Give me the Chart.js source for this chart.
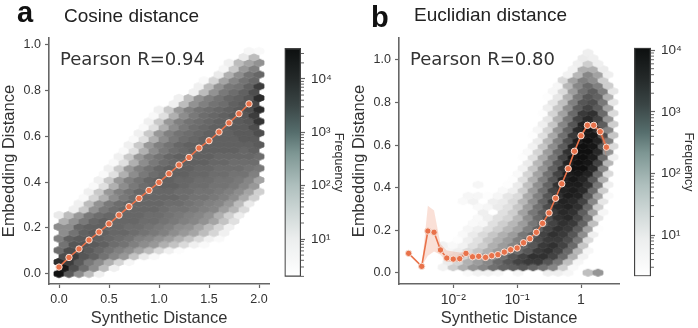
<!DOCTYPE html>
<html>
<head>
<meta charset="utf-8">
<script src="https://cdn.jsdelivr.net/npm/chart.js@4"></script>
<style>
body { margin: 0; background: #fff; width: 698px; height: 328px; overflow: hidden; position: relative; }
canvas { position: absolute; top: 0; }
.txt { position: absolute; white-space: nowrap; line-height: 1; }
.letter { font: bold 29px/1 "Liberation Sans"; color: #111; }
.title { font: 19px/1 "Liberation Sans"; color: #222; }
.pearson { font: 18px/1 "DejaVu Sans"; color: #333; }
</style>
</head>
<body>
<canvas id="hexA" style="left:0"></canvas>
<canvas id="barA" style="left:275px"></canvas>
<canvas id="hexB" style="left:350px"></canvas>
<canvas id="barB" style="left:625px"></canvas>
<div class="txt letter" style="left:17px;top:-2px">a</div>
<div class="txt title" style="left:64px;top:6px">Cosine distance</div>
<div class="txt pearson" style="left:60px;top:50px">Pearson R=0.94</div>
<div class="txt letter" style="left:371px;top:3px">b</div>
<div class="txt title" style="left:414px;top:5px">Euclidian distance</div>
<div class="txt pearson" style="left:410px;top:50px">Pearson R=0.80</div>
<script>
// mean line, panel a
const cosineX = [0, 0.1, 0.2, 0.3, 0.4, 0.5, 0.6, 0.7, 0.8, 0.9, 1.0, 1.1, 1.2, 1.3, 1.4, 1.5, 1.6, 1.7, 1.8, 1.9];
const cosineY = [0.029, 0.071, 0.108, 0.147, 0.182, 0.218, 0.256, 0.293, 0.329, 0.364, 0.399, 0.437, 0.475, 0.508, 0.549, 0.581, 0.619, 0.659, 0.699, 0.742];

// mean line and band, panel b
const euclidX = [0.002, 0.0032, 0.004, 0.005, 0.0063, 0.0079, 0.01, 0.0126, 0.0158, 0.02, 0.025, 0.032, 0.04, 0.05, 0.063, 0.079, 0.1, 0.126, 0.158, 0.2, 0.25, 0.316, 0.4, 0.5, 0.63, 0.79, 1, 1.26, 1.58, 2, 2.5];
const euclidY = [0.091, 0.03, 0.196, 0.19, 0.107, 0.069, 0.064, 0.066, 0.091, 0.075, 0.077, 0.072, 0.08, 0.085, 0.097, 0.108, 0.116, 0.141, 0.16, 0.19, 0.232, 0.281, 0.35, 0.418, 0.489, 0.571, 0.644, 0.693, 0.693, 0.663, 0.59];
const euclidUpper = [0.091, 0.03, 0.315, 0.293, 0.135, 0.105, 0.1, 0.095, 0.1, 0.081, 0.082, 0.077, 0.085, 0.09, 0.102, 0.113, 0.121, 0.146, 0.165, 0.195, 0.237, 0.287, 0.356, 0.424, 0.496, 0.578, 0.652, 0.703, 0.705, 0.685, 0.62];
const euclidLower = [0.091, 0.03, 0.08, 0.1, 0.085, 0.05, 0.05, 0.05, 0.08, 0.069, 0.072, 0.067, 0.075, 0.08, 0.092, 0.103, 0.111, 0.136, 0.155, 0.185, 0.227, 0.275, 0.344, 0.412, 0.482, 0.564, 0.636, 0.683, 0.681, 0.64, 0.54];

// hex bins: log10(frequency) x 10, one list per row from the bottom, 0 = empty bin
const cosineStart = [0,0,0,0,0,0,0,0,0,0,0,1,2,2,3,3,4,4,5,5,6,6,7,7,8,8,9,9,10,11,12,13,14,14,16,16,17,18,19];
const cosineFreq = [
  [45,34,26,18,8],
  [44,36,31,26,18,8],
  [40,38,34,29,26,20,14,6],
  [36,38,35,33,30,27,24,17,10,5],
  [31,36,36,34,32,30,28,26,22,18,13,8,4],
  [30,35,35,34,33,31,30,28,26,24,20,17,13,8,5],
  [28,33,34,34,33,32,31,30,28,27,25,23,20,17,13,8,5],
  [26,30,33,34,33,32,32,31,30,29,28,26,24,22,18,14,8],
  [26,26,32,33,33,32,32,31,31,30,29,28,26,25,22,18,14,8],
  [20,25,29,32,33,32,32,32,31,31,30,29,28,27,25,22,17,12],
  [10,18,24,29,31,32,32,32,32,31,31,30,29,28,27,25,20,15,9],
  [8,16,25,29,31,32,32,32,32,31,30,30,29,28,27,23,19,13],
  [8,18,25,29,31,32,32,32,32,31,31,30,29,28,27,24,18,10],
  [5,14,20,26,29,31,32,32,32,32,31,30,30,29,28,26,21,15],
  [8,16,24,28,30,32,32,32,32,31,31,30,30,29,28,26,22,15],
  [5,12,20,26,29,31,32,33,33,32,31,31,30,30,29,27,24],
  [8,16,24,28,30,32,33,33,32,32,31,31,30,30,29,27,22],
  [5,12,20,26,29,31,32,33,33,32,32,31,31,30,30,28],
  [8,16,24,28,30,32,33,33,33,32,32,31,31,31,30,29],
  [5,12,20,26,29,31,32,33,33,33,32,32,31,31,31],
  [8,16,24,28,30,32,33,33,33,33,32,32,32,32,31],
  [5,12,20,26,29,31,32,33,33,33,33,33,32,33],
  [8,16,24,28,30,32,33,33,33,33,33,33,33,34],
  [5,12,20,26,29,31,32,33,33,33,33,34,34],
  [8,16,24,28,30,31,32,33,33,33,34,34,36],
  [5,12,20,26,29,31,32,33,33,34,34,36],
  [8,16,24,28,30,31,32,33,33,34,35,39],
  [5,12,20,26,29,31,32,33,34,35,38],
  [8,16,24,28,30,31,32,33,34,36,40],
  [8,18,25,28,30,31,33,34,37],
  [8,18,25,28,30,32,33,35,40],
  [8,18,25,29,31,33,36],
  [8,18,25,29,30,33,38],
  [5,14,22,27,30,32],
  [10,20,26,30,32],
  [6,16,24,28],
  [8,18,22,25],
  [10,18],
  [6,5]
];

const euclidStart = [3,0,1,0,1,0,2,2,3,3,4,4,4,2,3,6,4,7,8,8,9,8,9,9,10,9,10,10,11,10,11,11,11,11,12,12,13,13,14,14,15];
const euclidFreq = [
  [5,7,7,6,0,6,0,0,8,8,6,0,16,22],
  [7,14,18,22,24,27,29,30,31,29,27,24,14,5],
  [9,13,18,21,24,28,31,33,34,34,31,26,16,6],
  [4,8,13,17,20,23,27,31,33,35,35,33,28,18,7],
  [6,8,12,15,18,21,25,28,31,34,35,33,28,17,6],
  [7,5,7,11,14,18,21,24,28,31,34,35,33,28,15],
  [4,8,11,15,18,21,25,28,32,34,34,32,26,12],
  [5,9,12,15,18,21,26,29,33,35,34,31,23,8],
  [6,8,11,14,17,20,25,29,33,35,34,30,20,4],
  [5,6,11,14,17,21,26,30,33,35,34,29,16],
  [5,8,11,13,17,23,28,32,35,36,33,27,10],
  [8,0,11,14,20,26,30,34,36,35,30,20,6],
  [5,6,9,11,15,21,27,32,36,37,35,28,14],
  [5,7,0,8,9,12,17,23,29,34,37,36,33,24,10],
  [6,6,4,6,10,12,19,25,31,35,38,37,31,20,5],
  [5,8,14,21,27,33,37,38,36,28,14],
  [6,0,0,4,9,16,23,29,35,38,38,35,26,8],
  [4,11,18,25,31,37,39,37,31,18],
  [5,13,20,27,33,38,39,37,28,12],
  [7,15,22,29,35,40,40,36,24],
  [9,17,24,31,37,40,39,33,17],
  [4,11,19,26,33,39,40,38,28,8],
  [5,13,21,28,35,40,40,36,22],
  [7,15,23,30,37,40,39,31,12],
  [9,17,25,32,38,40,37,25],
  [4,11,19,27,34,39,39,32,15],
  [6,13,22,29,36,39,36,24],
  [8,15,24,31,37,38,30,14],
  [10,18,26,33,36,33,22],
  [4,13,20,28,34,35,28,12],
  [8,15,23,30,33,30,20],
  [10,16,25,31,32,26,10],
  [4,10,18,26,31,29,18],
  [6,12,21,27,30,25,10],
  [6,17,24,28,25,14],
  [12,20,25,23,14],
  [7,17,24,20,8],
  [7,18,18,9],
  [8,14,8],
  [9,8],
  [8]
];

const cosineTicksX = [0, 0.5, 1, 1.5, 2];
const yTicks = [0, 0.2, 0.4, 0.6, 0.8, 1];
const euclidTicksX = [0.01, 0.1, 1];
const euclidLabelsX = ['10\u207B\u00B2', '10\u207B\u00B9', '1'];
const cbarA = [10, 100, 1000, 10000];
const cbarLabels = ['10\u00B9', '10\u00B2', '10\u00B3', '10\u2074'];

// colour ramp as fraction of the colorbar -> colour
const rampPos = [0, 0.165, 0.28, 0.4, 0.54, 0.63, 0.75, 0.865, 1];
const rampBar = ['#ffffff', '#eceeee', '#cfd8d7', '#aebfbd', '#7d9693', '#566e6d', '#3a4545', '#242929', '#0c0f0f'];
const rampHex = [255, 234, 208, 175, 140, 115, 85, 45, 14];

const lineColor = '#e9724a';
const axisColor = '#666';
const textColor = '#333';
const tickFont = { family: 'Liberation Sans', size: 12.5 };
const titleFont = { family: 'Liberation Sans', size: 16.5 };

function grayFor(frac) {
  for (let i = 1; i < rampPos.length; i++) {
    if (frac <= rampPos[i]) {
      const t = (frac - rampPos[i - 1]) / (rampPos[i] - rampPos[i - 1]);
      return Math.round(rampHex[i - 1] + t * (rampHex[i] - rampHex[i - 1]));
    }
  }
  return rampHex[rampHex.length - 1];
}

// a sprite per gray level, used as the point style of the hexbin
const sprites = {};
function hexSprite(gray, w, h) {
  const key = gray + '_' + h;
  if (sprites[key]) return sprites[key];
  const c = document.createElement('canvas');
  c.width = w + 4;
  c.height = Math.ceil(h) + 4;
  const g = c.getContext('2d');
  const cx = c.width / 2, cy = c.height / 2, s = h / 2;
  g.fillStyle = g.strokeStyle = 'rgb(' + gray + ',' + gray + ',' + gray + ')';
  g.lineWidth = 0.8;
  g.beginPath();
  g.moveTo(cx, cy - s);
  g.lineTo(cx + w / 2, cy - s / 2);
  g.lineTo(cx + w / 2, cy + s / 2);
  g.lineTo(cx, cy + s);
  g.lineTo(cx - w / 2, cy + s / 2);
  g.lineTo(cx - w / 2, cy - s / 2);
  g.closePath();
  g.fill();
  g.stroke();
  sprites[key] = c;
  return c;
}

function hexPoints(starts, rows, xOf, yStep) {
  const pts = [];
  rows.forEach(function (row, r) {
    row.forEach(function (f, i) {
      if (f > 0) pts.push({ x: xOf(starts[r] + i + (r % 2 ? 0.5 : 0)), y: r * yStep, f: f / 10 });
    });
  });
  return pts;
}

function lineData(xs, ys) {
  return xs.map(function (x, i) { return { x: x, y: ys[i] }; });
}

function hexDataset(pts, logMin, logMax, hexH) {
  return {
    data: pts,
    order: 5,
    showLine: false,
    pointRadius: 5,
    pointHoverRadius: 5,
    pointStyle: function (ctx) {
      if (!ctx.raw) return 'circle';
      return hexSprite(grayFor((ctx.raw.f - logMin) / (logMax - logMin)), 10, hexH);
    }
  };
}

function meanDataset(pts) {
  return {
    data: pts,
    order: 1,
    showLine: true,
    borderColor: lineColor,
    borderWidth: 1.6,
    pointRadius: 3.2,
    pointBackgroundColor: lineColor,
    pointBorderColor: '#f6dfd5',
    pointBorderWidth: 1
  };
}

function axisBase(title, fitKey, fitVal) {
  return {
    grid: { drawOnChartArea: false, tickColor: axisColor, tickLength: 4, tickWidth: 1.2 },
    border: { color: axisColor, width: 1.6 },
    title: { display: true, text: title, color: textColor, font: titleFont, padding: 0 },
    afterFit: function (scale) { scale[fitKey] = fitVal; }
  };
}

function hexChart(id, datasets, xScale, yMin, yMax) {
  const canvas = document.getElementById(id);
  canvas.width = 280;
  canvas.height = 328;
  const yAxis = axisBase('Embedding Distance', 'width', 49);
  yAxis.min = yMin;
  yAxis.max = yMax;
  yAxis.afterBuildTicks = function (scale) { scale.ticks = yTicks.map(function (v) { return { value: v }; }); };
  yAxis.ticks = { color: textColor, font: tickFont, padding: 4, autoSkip: false, callback: function (v) { return v.toFixed(1); } };
  return new Chart(canvas, {
    type: 'scatter',
    data: { datasets: datasets },
    options: {
      responsive: false,
      animation: false,
      layout: { padding: { top: 38, right: 11 } },
      plugins: { legend: { display: false }, tooltip: { enabled: false } },
      scales: { x: xScale, y: yAxis }
    }
  });
}

const minorTicks = {
  id: 'minorTicks',
  afterDraw: function (chart) {
    const y = chart.scales.y, g = chart.ctx, right = chart.chartArea.right;
    g.save();
    g.strokeStyle = axisColor;
    g.lineWidth = 1;
    for (let e = 0; e < 5; e++) {
      for (let m = 2; m < 10; m++) {
        const v = m * Math.pow(10, e);
        if (v < y.min || v > y.max) continue;
        const p = y.getPixelForValue(v);
        g.beginPath();
        g.moveTo(right, p);
        g.lineTo(right + 3, p);
        g.stroke();
      }
    }
    g.restore();
  }
};

function colorbar(id, logMin, logMax, top, bottom, left, barW) {
  const canvas = document.getElementById(id);
  canvas.width = 73;
  canvas.height = 328;
  return new Chart(canvas, {
    type: 'bar',
    data: {
      labels: ['f'],
      datasets: [{
        data: [[Math.pow(10, logMin), Math.pow(10, logMax)]],
        barPercentage: 1,
        categoryPercentage: 1,
        borderColor: '#444',
        borderWidth: 1.5,
        borderSkipped: false,
        backgroundColor: function (ctx) {
          const a = ctx.chart.chartArea;
          if (!a) return '#888';
          const grad = ctx.chart.ctx.createLinearGradient(0, a.bottom, 0, a.top);
          rampPos.forEach(function (p, i) { grad.addColorStop(p, rampBar[i]); });
          return grad;
        }
      }]
    },
    plugins: [minorTicks],
    options: {
      responsive: false,
      animation: false,
      layout: { padding: { top: top, bottom: 328 - bottom, left: left, right: 2 } },
      plugins: { legend: { display: false }, tooltip: { enabled: false } },
      scales: {
        x: { display: false },
        y: {
          type: 'logarithmic',
          position: 'right',
          bounds: 'data',
          min: Math.pow(10, logMin),
          max: Math.pow(10, logMax),
          grid: { drawOnChartArea: false, tickColor: axisColor, tickLength: 4, tickWidth: 1.2 },
          border: { display: false },
          afterBuildTicks: function (scale) { scale.ticks = cbarA.filter(function (v) { return v <= scale.max; }).map(function (v) { return { value: v }; }); },
          afterFit: function (scale) { scale.width = 71 - left - barW; },
          ticks: {
            color: textColor,
            font: { family: 'Liberation Sans', size: 13.5 },
            padding: 6,
            autoSkip: false,
            callback: function (v) { return cbarLabels[cbarA.indexOf(v)]; }
          },
          title: { display: true, text: 'Frequency', color: textColor, font: { family: 'Liberation Sans', size: 12.5 }, padding: 0 }
        }
      }
    }
  });
}

// panel a
const xA = axisBase('Synthetic Distance', 'height', 44);
xA.type = 'linear';
xA.min = -0.1;
xA.max = 2.1;
xA.afterBuildTicks = function (scale) { scale.ticks = cosineTicksX.map(function (v) { return { value: v }; }); };
xA.ticks = { color: textColor, font: tickFont, padding: 4, autoSkip: false, maxRotation: 0, callback: function (v) { return v.toFixed(1); } };

hexChart('hexA', [
  meanDataset(lineData(cosineX, cosineY)),
  hexDataset(hexPoints(cosineStart, cosineFreq, function (k) { return k * 0.1; }, 0.0256), 0.295, 4.58, 7.8)
], xA, -0.045, 1.03);
colorbar('barA', 0.295, 4.58, 48, 276.7, 9.5, 16.5);

// panel b
const xB = axisBase('Synthetic Distance', 'height', 44);
xB.type = 'logarithmic';
xB.bounds = 'data';
xB.min = Math.pow(10, -2.85);
xB.max = Math.pow(10, 0.595);
xB.afterBuildTicks = function (scale) { scale.ticks = euclidTicksX.map(function (v) { return { value: v }; }); };
xB.ticks = { color: textColor, font: { family: 'Liberation Sans', size: 14 }, padding: 4, autoSkip: false, maxRotation: 0, callback: function (v) { return euclidLabelsX[euclidTicksX.indexOf(v)]; } };

hexChart('hexB', [
  meanDataset(lineData(euclidX, euclidY)),
  { data: lineData(euclidX, euclidUpper), order: 2, showLine: true, borderWidth: 0, pointRadius: 0, fill: '+1', backgroundColor: 'rgba(233,114,74,0.22)' },
  { data: lineData(euclidX, euclidLower), order: 3, showLine: true, borderWidth: 0, pointRadius: 0 },
  hexDataset(hexPoints(euclidStart, euclidFreq, function (c) { return Math.pow(10, -2.238 + 0.1565 * c); }, 0.02586), 0.33, 4.04, 7.33)
], xB, -0.053, 1.1034);
colorbar('barB', 0.33, 4.04, 47.7, 276.3, 9, 17);
</script>
</body>
</html>
